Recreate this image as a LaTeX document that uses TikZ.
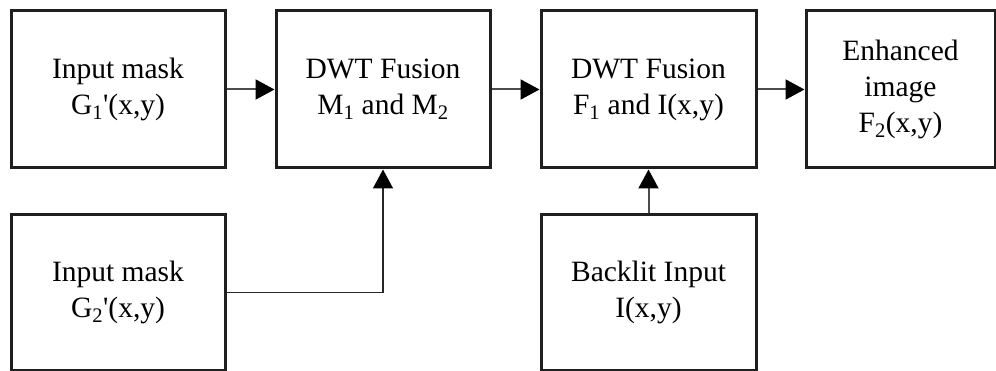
\documentclass[tikz,border=0pt]{standalone}
\usepackage{fontspec}
\setmainfont{Liberation Serif}
\newcommand{\prm}{\textquotesingle}
\usetikzlibrary{arrows.meta}
\begin{document}
\begin{tikzpicture}[x=1pt,y=-1pt,
  blockbox/.style={draw=black!88, line width=3pt, rectangle, inner sep=0pt, align=center,
    font=\rmfamily\fontsize{29.5}{36}\selectfont},
  conn/.style={draw=black!70, line width=2pt, -{Triangle[length=19pt,width=20pt,color=black]}}]
\useasboundingbox (0,0) rectangle (996,371);
\node[blockbox, minimum width=214pt, minimum height=157pt] (m1) at (118,89.5) {Input mask\\G\textsubscript{1}\prm(x,y)};
\node[blockbox, minimum width=214pt, minimum height=157pt] (f1) at (383,89.5) {DWT Fusion\\M\textsubscript{1} and M\textsubscript{2}};
\node[blockbox, minimum width=215pt, minimum height=157pt] (f2) at (648.5,89.5) {DWT Fusion\\F\textsubscript{1} and I(x,y)};
\node[blockbox, minimum width=189pt, minimum height=157pt] (out) at (900.5,89.5) {Enhanced\\image\\F\textsubscript{2}(x,y)};
\node[blockbox, minimum width=214pt, minimum height=155pt] (m2) at (118,292.5) {Input mask\\G\textsubscript{2}\prm(x,y)};
\node[blockbox, minimum width=215pt, minimum height=155pt] (bl) at (648.5,292.5) {Backlit Input\\I(x,y)};
\draw[conn] (m1.east) -- (f1.west);
\draw[conn] (f1.east) -- (f2.west);
\draw[conn] (f2.east) -- (out.west);
\draw[conn, draw=black!85, line width=1.6pt] (m2.east) -| (f1.south);
\draw[conn] (bl.north) -- (f2.south);
\end{tikzpicture}
\end{document}
